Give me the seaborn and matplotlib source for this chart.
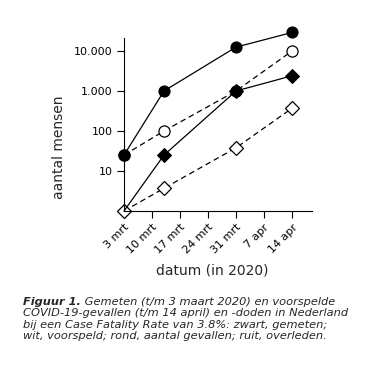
import pandas as pd
import seaborn as sns
import matplotlib.pyplot as plt

# data (log scale, people)
dates = pd.to_datetime(['2020-03-03', '2020-03-13', '2020-03-31', '2020-04-14'])
cases_measured = [25, 1000, 12500, 29000]
cases_predicted = [25, 100, 1000, 10000]
deaths_measured = [1, 25, 1000, 2400]
deaths_predicted = [1, 3.7, 38, 370]

tick_dates = pd.date_range('2020-03-03', periods=7, freq='7D')
tick_labels = ['3 mrt', '10 mrt', '17 mrt', '24 mrt', '31 mrt', '7 apr', '14 apr']
y_ticks = [10, 100, 1000, 10000]
y_labels = ['10', '100', '1.000', '10.000']

sns.set_style('ticks')
plt.rcParams['font.family'] = ['DejaVu Sans']

fig = plt.figure(figsize=(3.84, 3.84), dpi=100)
ax = fig.add_axes([0.3229, 0.4505, 0.4896, 0.4792])

dash = (0, (4.5, 3))
# predicted (dashed, open markers)
sns.lineplot(x=dates, y=cases_predicted, ax=ax, color='black', lw=0.9, ls=dash,
             marker='o', ms=8, mfc='white', mec='black', mew=0.9, clip_on=False)
sns.lineplot(x=dates, y=deaths_predicted, ax=ax, color='black', lw=0.9, ls=dash,
             marker='D', ms=6.8, mfc='white', mec='black', mew=0.9, clip_on=False)
# measured (solid, filled markers)
sns.lineplot(x=dates, y=deaths_measured, ax=ax, color='black', lw=0.9,
             marker='D', ms=6.8, mfc='black', mec='black', markevery=[1, 2, 3], clip_on=False)
sns.lineplot(x=dates, y=cases_measured, ax=ax, color='black', lw=0.9,
             marker='o', ms=8, mfc='black', mec='black', clip_on=False)

ax.set_yscale('log')
ax.set_ylim(1, 10 ** 4.6)
ax.set_xlim(pd.Timestamp('2020-03-03'), pd.Timestamp('2020-04-19'))
ax.set_yticks(y_ticks)
ax.set_yticklabels(y_labels, fontsize=8)
ax.minorticks_off()
ax.set_xticks(tick_dates)
ax.set_xticklabels(tick_labels, fontsize=8, rotation=45, ha='right', rotation_mode='anchor')
ax.tick_params(length=5, width=0.8, pad=3, colors='black')

for s in ['top', 'right']:
    ax.spines[s].set_visible(False)
ax.spines['left'].set_bounds(1, 21600)
for s in ['left', 'bottom']:
    ax.spines[s].set_linewidth(0.8)
    ax.spines[s].set_color('black')

ax.set_ylabel('aantal mensen', fontsize=10)
ax.yaxis.set_label_coords(-0.311, 0.348)
ax.set_xlabel('datum (in 2020)', fontsize=10)
ax.xaxis.set_label_coords(0.472, -0.285)

# caption
cap = 8.2
x0 = 22.7 / 384
base = [305, 316.3, 327.6, 338.9]
t1 = fig.text(x0, 1 - base[0] / 384, 'Figuur 1.', fontsize=cap, style='italic',
              weight='bold', va='baseline')
t2 = fig.text(0, 1 - base[0] / 384, ' Gemeten (t/m 3 maart 2020) en voorspelde',
              fontsize=cap, style='italic', va='baseline')
rest = ['COVID-19-gevallen (t/m 14 april) en -doden in Nederland',
        'bij een Case Fatality Rate van 3.8%: zwart, gemeten;',
        'wit, voorspeld; rond, aantal gevallen; ruit, overleden.']
for line, b in zip(rest, base[1:]):
    fig.text(x0, 1 - b / 384, line, fontsize=cap, style='italic', va='baseline')

fig.canvas.draw()
bb = t1.get_window_extent()
t2.set_x(bb.x1 / 384)

fig.savefig('out.png', dpi=100)
